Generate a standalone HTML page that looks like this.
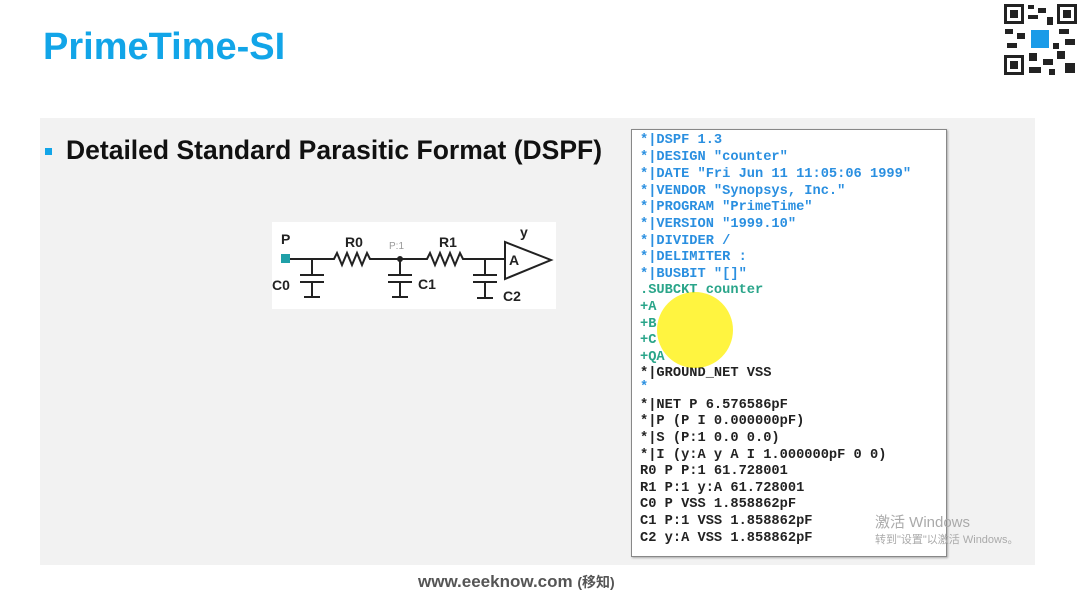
<!DOCTYPE html>
<html><head><meta charset="utf-8"><style>
body{margin:0;width:1082px;height:601px;background:#fff;position:relative;overflow:hidden;font-family:"Liberation Sans",sans-serif}
.abs{position:absolute}
#title{left:43px;top:26px;font-size:38px;font-weight:bold;color:#12a5e8}
#panel{left:40px;top:118px;width:995px;height:447px;background:#f2f2f2}
#bul{left:45px;top:148px;width:7px;height:7px;background:#12a5e8}
#head{left:66px;top:135px;font-size:26.5px;font-weight:bold;color:#111;white-space:nowrap}
#code{left:631px;top:129px;width:314px;height:426px;background:#fff;border:1px solid #888;box-shadow:1px 1px 2px #aaa}
#code div{position:absolute;left:8px;font-family:"Liberation Mono",monospace;font-weight:bold;font-size:13.7px;white-space:pre}
.b{color:#2a8fe0}.t{color:#2aa58a}.k{color:#222}
#foot{left:418px;top:572px;font-size:17px;color:#555;font-weight:bold}
</style></head><body>
<div class="abs" id="title">PrimeTime-SI</div>
<div class="abs" id="panel"></div>
<div class="abs" id="bul"></div>
<div class="abs" id="head">Detailed Standard Parasitic Format (DSPF)</div>
<svg class="abs" style="left:272px;top:222px" width="284" height="87">
<rect width="284" height="87" fill="#fff"/>
<g stroke="#222" stroke-width="2" fill="none">
<path d="M17 37 H40 M40 37 V53 M28 53 H52 M28 60 H52 M40 60 V75 M32 75 H48"/>
<path d="M40 37 H62 l3-6 5 12 5-12 5 12 5-12 5 12 5-12 3 6 H130"/>
<path d="M128 37 V53 M116 53 H140 M116 60 H140 M128 60 V75 M120 75 H136"/>
<path d="M130 37 H155 l3-6 5 12 5-12 5 12 5-12 5 12 5-12 3 6 H233"/>
<path d="M213 37 V53 M201 53 H225 M201 60 H225 M213 60 V76 M205 76 H221"/>
<path d="M233 20 V57 L279 38 Z"/>
</g>
<circle cx="128" cy="37" r="3" fill="#222"/>
<rect x="9" y="32" width="9" height="9" fill="#20a0a8"/>
<g font-family="Liberation Sans" font-weight="bold" font-size="14" fill="#222">
<text x="9" y="22">P</text><text x="73" y="25">R0</text><text x="167" y="25">R1</text>
<text x="0" y="68">C0</text><text x="146" y="67">C1</text><text x="231" y="79">C2</text>
<text x="237" y="43">A</text><text x="248" y="15">y</text></g>
<text x="117" y="27" font-size="10" fill="#999" font-family="Liberation Sans">P:1</text>
</svg>
<div class="abs" id="code">
<div class="b" style="top:3px">*|DSPF 1.3</div>
<div class="b" style="top:20px">*|DESIGN "counter"</div>
<div class="b" style="top:37px">*|DATE "Fri Jun 11 11:05:06 1999"</div>
<div class="b" style="top:54px">*|VENDOR "Synopsys, Inc."</div>
<div class="b" style="top:70px">*|PROGRAM "PrimeTime"</div>
<div class="b" style="top:87px">*|VERSION "1999.10"</div>
<div class="b" style="top:104px">*|DIVIDER /</div>
<div class="b" style="top:120px">*|DELIMITER :</div>
<div class="b" style="top:137px">*|BUSBIT "[]"</div>
<div class="t" style="top:153px">.SUBCKT counter</div>
<div class="t" style="top:170px">+A</div>
<div class="t" style="top:187px">+B</div>
<div class="t" style="top:203px">+C</div>
<div class="t" style="top:220px">+QA</div>
<div class="k" style="top:236px">*|GROUND_NET VSS</div>
<div class="b" style="top:250px">*</div>
<div class="k" style="top:268px">*|NET P 6.576586pF</div>
<div class="k" style="top:284px">*|P (P I 0.000000pF)</div>
<div class="k" style="top:301px">*|S (P:1 0.0 0.0)</div>
<div class="k" style="top:318px">*|I (y:A y A I 1.000000pF 0 0)</div>
<div class="k" style="top:334px">R0 P P:1 61.728001</div>
<div class="k" style="top:351px">R1 P:1 y:A 61.728001</div>
<div class="k" style="top:367px">C0 P VSS 1.858862pF</div>
<div class="k" style="top:384px">C1 P:1 VSS 1.858862pF</div>
<div class="k" style="top:401px">C2 y:A VSS 1.858862pF</div>
</div>
<div class="abs" style="left:657px;top:292px;width:76px;height:76px;border-radius:50%;background:rgba(255,240,0,0.75)"></div>
<div class="abs" style="left:875px;top:511px;font-size:15px;color:#aaa;font-family:'Liberation Sans','Noto Sans CJK SC',sans-serif">激活 Windows</div>
<div class="abs" style="left:875px;top:531px;font-size:11px;color:#aaa;font-family:'Liberation Sans','Noto Sans CJK SC',sans-serif">转到"设置"以激活 Windows。</div>
<div class="abs" id="foot">www.eeeknow.com <span style="font-size:14px;font-family:'Liberation Sans','Noto Sans CJK SC',sans-serif">(移知)</span></div>
<svg class="abs" style="left:1003px;top:3px" width="75" height="73">
<rect width="75" height="73" fill="#fff"/>
<g fill="#222">
<rect x="1" y="1" width="20" height="20"/><rect x="54" y="1" width="20" height="20"/><rect x="1" y="52" width="20" height="20"/>
</g>
<g fill="#fff"><rect x="4" y="4" width="14" height="14"/><rect x="57" y="4" width="14" height="14"/><rect x="4" y="55" width="14" height="14"/></g>
<g fill="#222"><rect x="7" y="7" width="8" height="8"/><rect x="60" y="7" width="8" height="8"/><rect x="7" y="58" width="8" height="8"/>
<rect x="25" y="2" width="6" height="4"/><rect x="35" y="5" width="8" height="5"/><rect x="25" y="12" width="10" height="4"/><rect x="44" y="14" width="6" height="8"/>
<rect x="2" y="26" width="8" height="5"/><rect x="14" y="30" width="8" height="6"/><rect x="56" y="26" width="10" height="5"/><rect x="62" y="36" width="10" height="6"/>
<rect x="4" y="40" width="10" height="5"/><rect x="26" y="50" width="8" height="8"/><rect x="40" y="56" width="10" height="6"/><rect x="54" y="48" width="8" height="8"/>
<rect x="62" y="60" width="10" height="10"/><rect x="26" y="64" width="12" height="6"/><rect x="46" y="66" width="6" height="6"/><rect x="50" y="40" width="6" height="6"/></g>
<rect x="28" y="27" width="18" height="18" fill="#1a9be8"/>
</svg>
</body></html>
